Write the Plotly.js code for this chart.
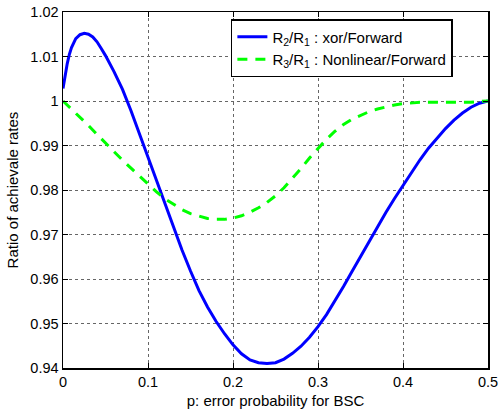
<!DOCTYPE html>
<html>
<head>
<meta charset="utf-8">
<script src="https://cdn.plot.ly/plotly-3.0.1.min.js"></script>
<style>html,body{margin:0;padding:0;background:#fff;}#chart{width:499px;height:415px;}</style>
</head>
<body>
<div id="chart"></div>
<script>
const xBlue = [0, 0.0025, 0.005, 0.0075, 0.01, 0.015, 0.02, 0.025, 0.03, 0.035, 0.04, 0.045, 0.05, 0.06, 0.07, 0.08, 0.09, 0.10, 0.11, 0.12, 0.13, 0.14, 0.15, 0.16, 0.17, 0.18, 0.19, 0.20, 0.21, 0.22, 0.23, 0.24, 0.25, 0.26, 0.27, 0.28, 0.29, 0.30, 0.31, 0.32, 0.33, 0.34, 0.35, 0.36, 0.37, 0.38, 0.39, 0.40, 0.41, 0.42, 0.43, 0.44, 0.45, 0.46, 0.47, 0.48, 0.49, 0.50];
const yBlue = [1.0028, 1.0058, 1.0084, 1.0105, 1.0120, 1.0140, 1.0149, 1.0152, 1.0150, 1.0144, 1.0133, 1.0118, 1.0102, 1.0066, 1.0026, 0.9978, 0.9926, 0.9870, 0.9818, 0.9766, 0.9714, 0.9665, 0.9618, 0.9574, 0.9537, 0.9505, 0.9477, 0.9452, 0.9432, 0.9418, 0.9412, 0.9410, 0.9412, 0.9420, 0.9433, 0.9449, 0.9469, 0.9493, 0.9520, 0.9550, 0.9583, 0.9617, 0.9651, 0.9685, 0.9718, 0.9750, 0.9781, 0.9811, 0.9840, 0.9868, 0.9894, 0.9917, 0.9938, 0.9957, 0.9973, 0.9986, 0.9995, 1.0000];
const xGreen = [0, 0.01, 0.02, 0.03, 0.04, 0.05, 0.06, 0.07, 0.08, 0.09, 0.10, 0.11, 0.12, 0.13, 0.14, 0.15, 0.16, 0.17, 0.18, 0.19, 0.20, 0.21, 0.22, 0.23, 0.24, 0.25, 0.26, 0.27, 0.28, 0.29, 0.30, 0.31, 0.32, 0.33, 0.34, 0.35, 0.36, 0.37, 0.38, 0.39, 0.40, 0.41, 0.42, 0.43, 0.44, 0.45, 0.46, 0.47, 0.48, 0.49, 0.50];
const yGreen = [1.0000, 0.9982, 0.9964, 0.9945, 0.9925, 0.9905, 0.9886, 0.9867, 0.9849, 0.9831, 0.9813, 0.9796, 0.9780, 0.9767, 0.9756, 0.9747, 0.9741, 0.9736, 0.9734, 0.9734, 0.9737, 0.9742, 0.9750, 0.9760, 0.9772, 0.9787, 0.9805, 0.9826, 0.9848, 0.9872, 0.9894, 0.9914, 0.9932, 0.9947, 0.9959, 0.9968, 0.9976, 0.9982, 0.9987, 0.9991, 0.9994, 0.9996, 0.9997, 0.9997, 0.9997, 0.9996, 0.9996, 0.9996, 0.9997, 0.9999, 1.0000];
const seriesNames = ["R<sub>2</sub>/R<sub>1</sub> : xor/Forward", "R<sub>3</sub>/R<sub>1</sub> : Nonlinear/Forward"];
const xTicks = [0, 0.1, 0.2, 0.3, 0.4, 0.5];
const xTickText = ["0", "0.1", "0.2", "0.3", "0.4", "0.5"];
const yTicks = [0.94, 0.95, 0.96, 0.97, 0.98, 0.99, 1.0, 1.01, 1.02];
const yTickText = ["0.94", "0.95", "0.96", "0.97", "0.98", "0.99", "1", "1.01", "1.02"];

const font = "Liberation Sans, Arial, Helvetica, sans-serif";
const traces = [
  {x: xBlue, y: yBlue, name: seriesNames[0], mode: "lines", line: {color: "#0000ff", width: 3}},
  {x: xGreen, y: yGreen, name: seriesNames[1], mode: "lines", line: {color: "#00ff00", width: 3, dash: "10px,8px"}}
];
const axisCommon = {
  showline: true, linecolor: "#000", linewidth: 1.5, mirror: "ticks",
  ticks: "inside", ticklen: 5, tickcolor: "#000", tickwidth: 1,
  showgrid: true, gridcolor: "#666", griddash: "dot", gridwidth: 1,
  zeroline: false, tickfont: {family: font, size: 14.5, color: "#000"}
};
const layout = {
  width: 499, height: 415,
  margin: {l: 63, r: 11, t: 12, b: 47},
  paper_bgcolor: "#fff", plot_bgcolor: "#fff",
  font: {family: font, color: "#000"},
  showlegend: true,
  legend: {x: 0.395, y: 0.98, xanchor: "left", yanchor: "top", bordercolor: "#000", borderwidth: 1.5,
           bgcolor: "#fff", font: {family: font, size: 15, color: "#000"}, tracegroupgap: 0, itemwidth: 30},
  xaxis: Object.assign({}, axisCommon, {range: [0, 0.5], tickvals: xTicks, ticktext: xTickText,
           title: {text: "p: error probability for BSC", font: {family: font, size: 15, color: "#000"}, standoff: 6}}),
  yaxis: Object.assign({}, axisCommon, {range: [0.94, 1.02], tickvals: yTicks, ticktext: yTickText,
           title: {text: "Ratio of achievale rates", font: {family: font, size: 15, color: "#000"}, standoff: 8}})
};
Plotly.newPlot("chart", traces, layout, {displayModeBar: false, staticPlot: true});
</script>
</body>
</html>
